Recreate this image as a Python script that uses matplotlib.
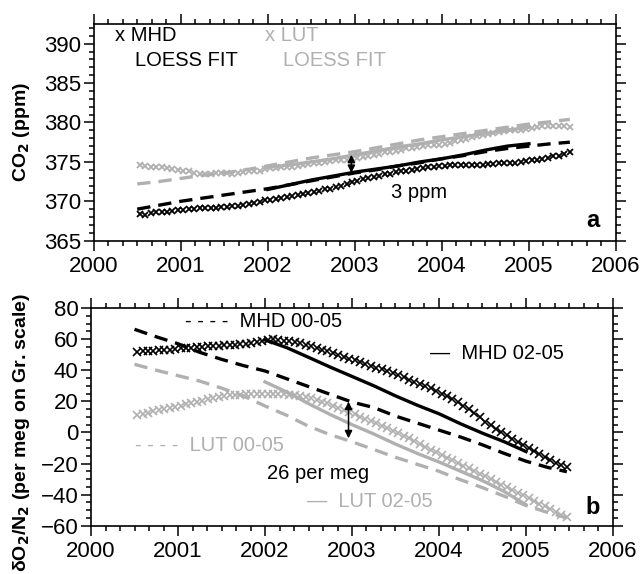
import numpy as np
import matplotlib
matplotlib.use("Agg")
import matplotlib.pyplot as plt
from matplotlib.ticker import MultipleLocator

plt.rcParams["font.family"] = ["Liberation Sans", "DejaVu Sans"]

GRAY = "#b0b0b0"

# sampling times of the station series (roughly every 3 weeks)
t_start = 2000.53
t_step = 0.0625
n_obs = 80

# --- panel a: CO2 (ppm) ---
co2_mhd = [
    368.4, 368.3, 368.5, 368.6, 368.6, 368.7, 368.8, 368.9, 368.9, 369.0,
    369.0, 369.1, 369.1, 369.2, 369.2, 369.3, 369.3, 369.4, 369.4, 369.5,
    369.7, 369.8, 369.9, 370.1, 370.2, 370.3, 370.4, 370.5, 370.7, 370.8,
    370.9, 371.0, 371.2, 371.3, 371.5, 371.6, 371.8, 372.0, 372.2, 372.4,
    372.6, 372.8, 372.9, 373.1, 373.2, 373.4, 373.5, 373.7, 373.8, 373.9,
    374.0, 374.1, 374.2, 374.3, 374.4, 374.5, 374.5, 374.6, 374.6, 374.6,
    374.6, 374.6, 374.6, 374.6, 374.7, 374.7, 374.8, 374.8, 374.9, 374.9,
    375.0, 375.1, 375.2, 375.3, 375.4, 375.5, 375.7, 375.8, 376.0, 376.2,
]
co2_lut = [
    374.6, 374.5, 374.4, 374.3, 374.3, 374.2, 374.1, 374.0, 373.9, 373.8,
    373.6, 373.5, 373.5, 373.5, 373.6, 373.6, 373.6, 373.5, 373.6, 373.7,
    373.8, 373.8, 373.9, 374.1, 374.2, 374.2, 374.3, 374.3, 374.4, 374.5,
    374.6, 374.7, 374.8, 374.9, 375.0, 375.1, 375.2, 375.2, 375.3, 375.4,
    375.5, 375.6, 375.7, 375.9, 376.0, 376.2, 376.3, 376.4, 376.5, 376.7,
    376.8, 376.9, 377.0, 377.1, 377.1, 377.2, 377.3, 377.4, 377.6, 377.8,
    377.9, 378.1, 378.3, 378.4, 378.5, 378.7, 378.8, 378.9, 379.0, 379.1,
    379.1, 379.2, 379.3, 379.4, 379.5, 379.6, 379.6, 379.5, 379.5, 379.4,
]

fit_full_t = [2000.5, 2000.75, 2001.0, 2001.25, 2001.5, 2001.75, 2002.0,
              2002.25, 2002.5, 2002.75, 2003.0, 2003.25, 2003.5, 2003.75,
              2004.0, 2004.25, 2004.5, 2004.75, 2005.0, 2005.25, 2005.47]
fit_late_t = [2002.0, 2002.25, 2002.5, 2002.75, 2003.0, 2003.25, 2003.5,
              2003.75, 2004.0, 2004.25, 2004.5, 2004.75, 2005.0]

co2_mhd_fit_full = [369.0, 369.5, 370.0, 370.4, 370.8, 371.2, 371.6, 372.1,
                    372.6, 373.1, 373.6, 374.0, 374.5, 374.9, 375.4, 375.8,
                    376.3, 376.7, 377.0, 377.3, 377.5]
co2_mhd_fit_late = [371.5, 372.1, 372.7, 373.2, 373.7, 374.1, 374.5, 375.0,
                    375.4, 375.9, 376.5, 377.0, 377.3]
co2_lut_fit_full = [372.2, 372.5, 372.9, 373.3, 373.6, 374.0, 374.5, 375.0,
                    375.5, 375.9, 376.3, 376.8, 377.3, 377.8, 378.2, 378.6,
                    379.0, 379.4, 379.8, 380.1, 380.4]
co2_lut_fit_late = [374.3, 374.6, 375.0, 375.4, 375.9, 376.4, 376.9, 377.3,
                    377.8, 378.2, 378.6, 379.0, 379.4]

co2_gap_x = 2002.96
co2_gap = (373.6, 375.9)

# --- panel b: dO2/N2 (per meg) ---
o2_mhd = [
    52.0, 52.3, 52.5, 52.6, 52.8, 53.0, 53.3, 53.6, 54.0, 54.3,
    54.5, 54.7, 55.0, 55.3, 55.5, 55.8, 56.0, 56.2, 56.5, 56.8,
    57.1, 57.5, 58.0, 58.6, 59.4, 59.8, 59.5, 59.0, 58.5, 58.0,
    57.2, 56.3, 55.3, 54.2, 53.2, 52.2, 51.2, 50.0, 48.8, 47.5,
    46.3, 45.1, 44.0, 42.9, 41.7, 40.5, 39.3, 38.1, 36.8, 35.4,
    34.0, 32.6, 31.2, 29.8, 28.3, 26.7, 25.0, 23.2, 21.4, 19.5,
    17.3, 14.8, 12.2, 9.6, 7.0, 4.6, 2.4, 0.2, -1.9, -4.0,
    -6.0, -8.0, -10.0, -12.0, -14.0, -16.0, -17.8, -19.6, -21.2, -22.5,
]
o2_lut = [
    11.5, 12.0, 12.8, 13.5, 14.2, 15.0, 15.8, 16.5, 17.3, 18.0,
    18.8, 19.6, 20.4, 21.2, 22.0, 22.8, 23.4, 23.8, 24.1, 24.3,
    24.5, 24.6, 24.7, 24.7, 24.7, 24.7, 24.6, 24.5, 24.3, 24.0,
    23.5, 22.8, 22.0, 21.0, 19.8, 18.6, 17.2, 15.8, 14.4, 13.0,
    11.6, 10.2, 8.8, 7.3, 5.8, 4.3, 2.8, 1.2, -0.4, -2.0,
    -3.8, -5.6, -7.4, -9.2, -11.0, -12.8, -14.6, -16.3, -18.0, -19.7,
    -21.4, -23.0, -24.8, -26.5, -28.2, -30.0, -31.7, -33.5, -35.2, -37.0,
    -38.7, -40.5, -42.3, -44.0, -45.8, -47.6, -49.4, -51.2, -53.0, -54.6,
]

o2_mhd_fit_full = [66.3, 61.5, 57.0, 51.5, 47.0, 43.0, 39.5, 34.5, 29.5,
                   24.5, 19.5, 16.0, 10.5, 6.0, 1.5, -3.0, -8.0, -13.5,
                   -18.5, -22.5, -25.3]
o2_mhd_fit_late = [59.5, 54.5, 48.3, 42.0, 36.0, 30.0, 23.5, 17.5, 12.0,
                   5.5, -0.5, -6.0, -12.3]
o2_lut_fit_full = [43.8, 40.0, 36.5, 33.0, 28.5, 23.5, 17.0, 11.0, 4.0,
                   -1.5, -6.0, -11.0, -16.0, -20.5, -25.0, -30.5, -35.5,
                   -41.0, -47.0, -51.5, -55.0]
o2_lut_fit_late = [32.5, 26.0, 18.5, 11.5, 5.0, -1.0, -7.5, -13.5, -19.0,
                   -25.0, -31.0, -38.0, -46.5]

o2_gap_x = 2002.96
o2_gap = (-3.8, 19.8)

t_obs = t_start + t_step * np.arange(n_obs)

dash = (4, 2.4)


def style_axis(ax, ymin, ymax, ymajor, yminor):
    ax.set_xlim(2000, 2006)
    ax.set_ylim(ymin, ymax)
    ax.xaxis.set_major_locator(MultipleLocator(1))
    ax.xaxis.set_minor_locator(MultipleLocator(1 / 6))
    ax.yaxis.set_major_locator(MultipleLocator(ymajor))
    ax.yaxis.set_minor_locator(MultipleLocator(yminor))
    ax.tick_params(which="both", direction="out", top=True, right=True,
                   width=1.1, labelsize=16)
    ax.tick_params(which="major", length=7)
    ax.tick_params(which="minor", length=3.5)
    ax.tick_params(axis="x", pad=4)
    ax.tick_params(axis="y", pad=2)
    for sp in ax.spines.values():
        sp.set_linewidth(1.2)


def gap_arrow(ax, x, y0, y1):
    ax.annotate("", xy=(x, y1), xytext=(x, y0),
                arrowprops=dict(arrowstyle="<|-|>", color="black", lw=1.1,
                                mutation_scale=11, shrinkA=0, shrinkB=0))


fig = plt.figure(figsize=(6.4, 5.74), dpi=100)
ax1 = fig.add_axes([0.1464, 0.5807, 0.8161, 0.3775])
ax2 = fig.add_axes([0.1422, 0.0841, 0.8156, 0.3793])

# panel a
ax1.plot(fit_full_t, co2_lut_fit_full, color=GRAY, lw=2.4, dashes=dash)
ax1.plot(fit_late_t, co2_lut_fit_late, color=GRAY, lw=2.4)
ax1.plot(t_obs, co2_lut, "x", color=GRAY, ms=5, mew=1.3)
ax1.plot(fit_full_t, co2_mhd_fit_full, color="black", lw=2.4, dashes=dash)
ax1.plot(fit_late_t, co2_mhd_fit_late, color="black", lw=2.4)
ax1.plot(t_obs, co2_mhd, "x", color="black", ms=5, mew=1.3)
gap_arrow(ax1, co2_gap_x, *co2_gap)
style_axis(ax1, 365, 392.5, 5, 1)
ax1.set_ylabel("CO$_\\mathbf{2}$ (ppm)", fontsize=14, fontweight="bold")
ax1.yaxis.set_label_coords(-0.118, 0.5)

ax1.text(2000.25, 391.0, "x MHD", fontsize=14.5, va="center")
ax1.text(2000.47, 387.9, "LOESS FIT", fontsize=14.5, va="center")
ax1.text(2001.97, 391.0, "x LUT", fontsize=14.5, va="center", color=GRAY)
ax1.text(2002.18, 387.9, "LOESS FIT", fontsize=14.5, va="center", color=GRAY)
ax1.text(2003.41, 371.1, "3 ppm", fontsize=14.5, va="center")
ax1.text(0.969, 0.04, "a", transform=ax1.transAxes, fontsize=17,
         fontweight="bold", ha="right", va="bottom")

# panel b
ax2.plot(fit_full_t, o2_lut_fit_full, color=GRAY, lw=2.4, dashes=dash)
ax2.plot(fit_late_t, o2_lut_fit_late, color=GRAY, lw=2.4)
ax2.plot(t_obs, o2_lut, "x", color=GRAY, ms=6, mew=1.2)
ax2.plot(fit_full_t, o2_mhd_fit_full, color="black", lw=2.4, dashes=dash)
ax2.plot(fit_late_t, o2_mhd_fit_late, color="black", lw=2.4)
ax2.plot(t_obs, o2_mhd, "x", color="black", ms=6, mew=1.2)
gap_arrow(ax2, o2_gap_x, *o2_gap)
style_axis(ax2, -60, 80, 20, 5)
ax2.set_ylabel("\u03b4O$_\\mathbf{2}$/N$_\\mathbf{2}$ (per meg on Gr. scale)",
               fontsize=14, fontweight="bold")
ax2.yaxis.set_label_coords(-0.113, 0.43)

ax2.text(2001.08, 71.2, "- - - -  MHD 00-05", fontsize=14.5, va="center")
ax2.text(2003.9, 50.9, "\u2014  MHD 02-05", fontsize=14.5, va="center")
ax2.text(2000.51, -8.1, "- - - -  LUT 00-05", fontsize=14.5, va="center",
         color=GRAY)
ax2.text(2002.48, -44.6, "\u2014  LUT 02-05", fontsize=14.5, va="center",
         color=GRAY)
ax2.text(2002.02, -26.1, "26 per meg", fontsize=14.5, va="center")
ax2.text(0.975, 0.03, "b", transform=ax2.transAxes, fontsize=17,
         fontweight="bold", ha="right", va="bottom")

fig.savefig("out.png", dpi=100)
